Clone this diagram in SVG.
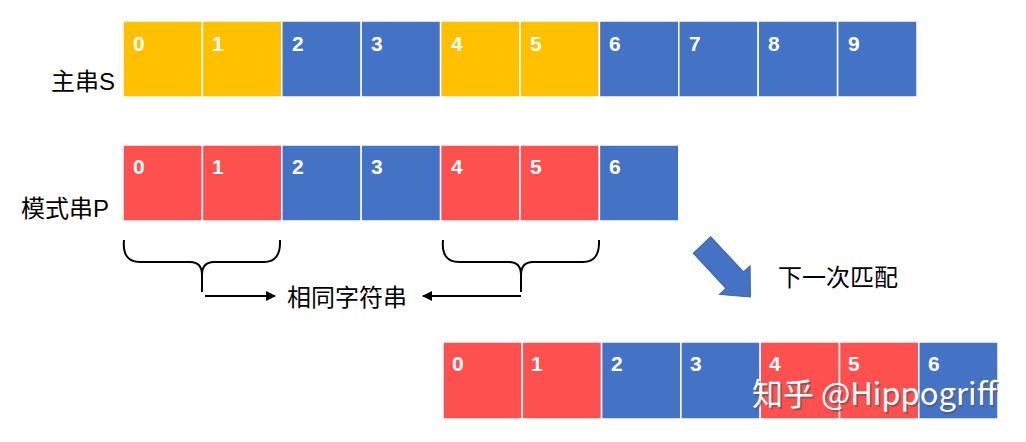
<svg xmlns="http://www.w3.org/2000/svg" width="1026" height="442" viewBox="0 0 1026 442">
<style>
.y{fill:#FFC000;stroke:#fff;stroke-width:1.5}
.b{fill:#4472C4;stroke:#fff;stroke-width:1.5}
.r{fill:#FF5050;stroke:#fff;stroke-width:1.5}
.n{fill:#fff;font-family:"Liberation Sans",sans-serif;font-weight:bold;font-size:21px}
.l{fill:#000;font-family:"Liberation Sans","Noto Sans CJK SC",sans-serif;font-size:24px}
.br{fill:none;stroke:#000;stroke-width:2}
.ar{stroke:#000;stroke-width:2;fill:none}
</style>
<defs>
<marker id="ah" viewBox="0 0 10 10" refX="9" refY="5" markerWidth="5" markerHeight="5" orient="auto-start-reverse"><path d="M0,0 L10,5 L0,10 z" fill="#000"/></marker>
</defs>
<rect width="1026" height="442" fill="#fff"/>
<g id="main-string">
<rect class="y" x="123" y="21" width="79.4" height="76"/>
<rect class="y" x="202.4" y="21" width="79.4" height="76"/>
<rect class="b" x="281.8" y="21" width="79.4" height="76"/>
<rect class="b" x="361.2" y="21" width="79.4" height="76"/>
<rect class="y" x="440.6" y="21" width="79.4" height="76"/>
<rect class="y" x="520" y="21" width="79.4" height="76"/>
<rect class="b" x="599.4" y="21" width="79.4" height="76"/>
<rect class="b" x="678.8" y="21" width="79.4" height="76"/>
<rect class="b" x="758.2" y="21" width="79.4" height="76"/>
<rect class="b" x="837.6" y="21" width="79.4" height="76"/>
<text class="n" x="133" y="51">0</text>
<text class="n" x="212" y="51">1</text>
<text class="n" x="292" y="51">2</text>
<text class="n" x="371" y="51">3</text>
<text class="n" x="451" y="51">4</text>
<text class="n" x="530" y="51">5</text>
<text class="n" x="609" y="51">6</text>
<text class="n" x="689" y="51">7</text>
<text class="n" x="768" y="51">8</text>
<text class="n" x="848" y="51">9</text>
<text class="l" x="51" y="90">主串S</text>
</g>
<g id="pattern-string">
<rect class="r" x="123" y="145" width="79.4" height="76"/>
<rect class="r" x="202.4" y="145" width="79.4" height="76"/>
<rect class="b" x="281.8" y="145" width="79.4" height="76"/>
<rect class="b" x="361.2" y="145" width="79.4" height="76"/>
<rect class="r" x="440.6" y="145" width="79.4" height="76"/>
<rect class="r" x="520" y="145" width="79.4" height="76"/>
<rect class="b" x="599.4" y="145" width="79.4" height="76"/>
<text class="n" x="133" y="174">0</text>
<text class="n" x="212" y="174">1</text>
<text class="n" x="292" y="174">2</text>
<text class="n" x="371" y="174">3</text>
<text class="n" x="451" y="174">4</text>
<text class="n" x="530" y="174">5</text>
<text class="n" x="609" y="174">6</text>
<text class="l" x="21" y="217">模式串P</text>
</g>
<g id="brace-left">
<path class="br" d="M124,240 Q122,262 140,262 L190,262 Q202,262 202,275 L202,292 M202,275 Q202,262 214,262 L264,262 Q281,262 280,240"/>
</g>
<g id="brace-right">
<path class="br" d="M443,240 Q441,262 459,262 L509,262 Q521,262 521,275 L521,292 M521,275 Q521,262 533,262 L583,262 Q600,262 599,240"/>
</g>
<g id="connectors">
<line class="ar" x1="205" y1="296" x2="275" y2="296" marker-end="url(#ah)"/>
<line class="ar" x1="521" y1="296" x2="423" y2="296" marker-end="url(#ah)"/>
</g>
<g id="same-label">
<text class="l" x="287" y="306">相同字符串</text>
</g>
<g id="next-arrow">
<polygon points="0,-12 48,-12 48,-21 71,0 48,21 48,12 0,12" fill="#4472C4" stroke="#3a64ad" stroke-width="1" transform="translate(702,245) rotate(47)"/>
<text class="l" x="778" y="286">下一次匹配</text>
</g>
<g id="next-pattern">
<rect class="r" x="443" y="342" width="79.3" height="77"/>
<rect class="r" x="522.3" y="342" width="79.3" height="77"/>
<rect class="b" x="601.6" y="342" width="79.3" height="77"/>
<rect class="b" x="680.9" y="342" width="79.3" height="77"/>
<rect class="r" x="760.2" y="342" width="79.3" height="77"/>
<rect class="r" x="839.5" y="342" width="79.3" height="77"/>
<rect class="b" x="918.8" y="342" width="79.2" height="77"/>
<text class="n" x="452" y="371">0</text>
<text class="n" x="531" y="371">1</text>
<text class="n" x="611" y="371">2</text>
<text class="n" x="690" y="371">3</text>
<text class="n" x="769" y="371">4</text>
<text class="n" x="848" y="371">5</text>
<text class="n" x="928" y="371">6</text>
</g>
<g id="watermark">
<text x="752" y="405" font-family="'Noto Sans CJK SC',sans-serif" font-size="31" fill="#555" opacity="0.6" transform="translate(1.5,1.5)">知乎 @Hippogriff</text>
<text x="752" y="405" font-family="'Noto Sans CJK SC',sans-serif" font-size="31" fill="#fff">知乎 @Hippogriff</text>
</g>
</svg>
